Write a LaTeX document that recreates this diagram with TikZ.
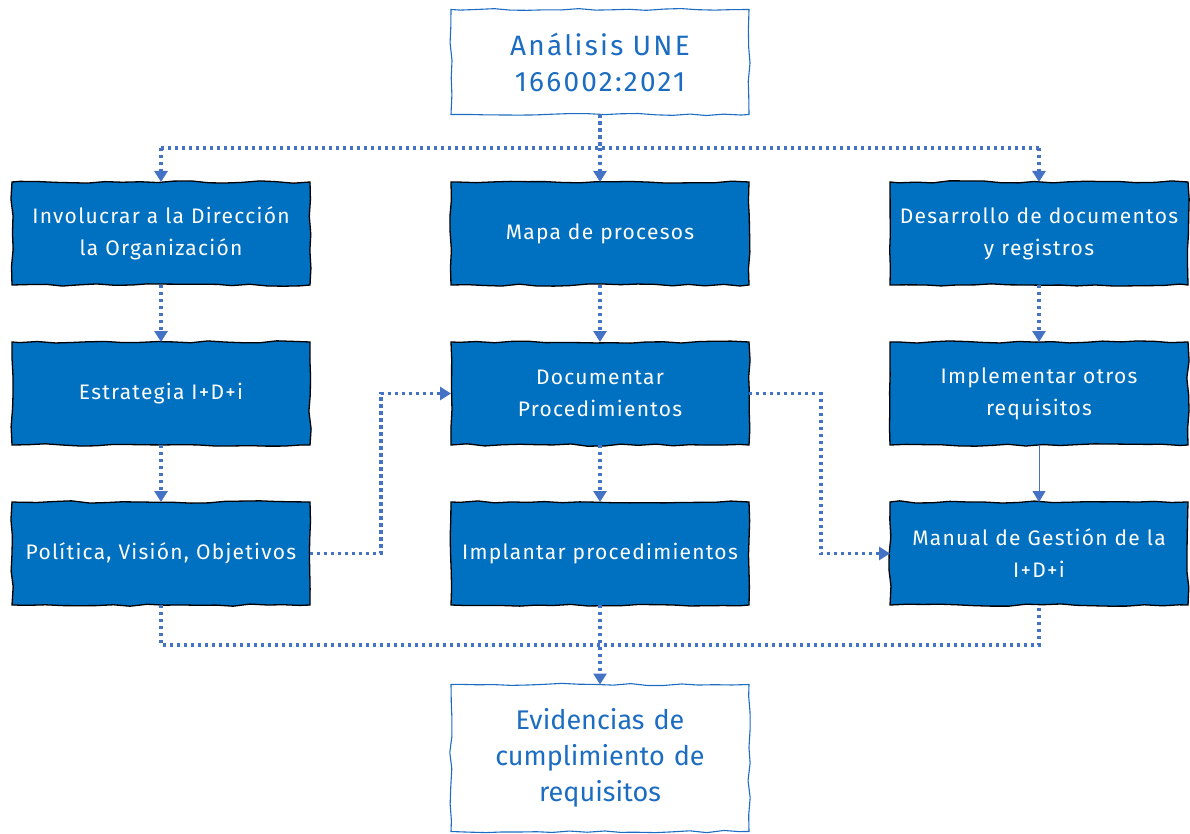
\documentclass[tikz,border=0pt]{standalone}
\usepackage{fontspec}
\setmainfont{Fira Sans}
\newfontfamily\boxfont[LetterSpace=6]{Fira Sans}
\newfontfamily\headfont[LetterSpace=8]{Fira Sans}
\usetikzlibrary{arrows.meta,decorations.pathmorphing,calc}
\definecolor{boxblue}{HTML}{0070C0}
\definecolor{linkblue}{HTML}{4472C4}
\definecolor{txtblue}{HTML}{1C6DC1}
\pgfmathsetseed{11}
\tikzset{
  sketch/.style={decorate,decoration={random steps,segment length=17pt,amplitude=1.2pt}},
  bluebox/.style={sketch,draw=black,line width=1.3pt,fill=boxblue,text=white,
    minimum width=298pt,minimum height=103pt,text width=290pt,align=center,inner sep=0pt,outer sep=0pt,
    font=\boxfont\fontsize{21}{32}\selectfont},
  whitebox/.style={sketch,draw=txtblue,line width=1.1pt,fill=white,text=txtblue,
    minimum width=298pt,text width=285pt,align=center,inner sep=0pt,outer sep=0pt,
    font=\fontsize{27}{36}\selectfont},
  dotline/.style={draw=linkblue,line width=3.4pt,dash pattern=on 3.4pt off 3.6pt},
  dotarrow/.style={dotline,-{Triangle[length=11pt,width=13pt]}},
  solidarrow/.style={draw=linkblue,line width=0.9pt,-{Triangle[length=11pt,width=13pt]}}
}
\begin{document}
\begin{tikzpicture}[x=1pt,y=-1pt]
\useasboundingbox (0,0) rectangle (1190,834);

% top and bottom boxes
\node[whitebox,minimum height=105pt,font=\headfont\fontsize{28}{36}\selectfont] (ana) at (600,62) {Análisis UNE\\166002:2021};
\node[whitebox,minimum height=147pt] (evi) at (600,758) {Evidencias de\\cumplimiento de\\requisitos};

% first row
\node[bluebox] (inv) at (161,233.5) {Involucrar a la Dirección\\la Organización};
\node[bluebox] (map) at (600,233.5) {Mapa de procesos};
\node[bluebox] (des) at (1039,233.5) {Desarrollo de documentos\\y registros};

% second row
\node[bluebox] (est) at (161,393.5) {Estrategia I+D+i};
\node[bluebox] (doc) at (600,393.5) {Documentar\\Procedimientos};
\node[bluebox] (otr) at (1039,393.5) {Implementar otros\\requisitos};

% third row
\node[bluebox] (pol) at (161,553.5) {Política, Visión, Objetivos};
\node[bluebox] (imp) at (600,553.5) {Implantar procedimientos};
\node[bluebox] (man) at (1039,553.5) {Manual de Gestión de la\\I+D+i};

% junction points of the routed connectors
\coordinate (bus) at (600,148);
\coordinate (bus2) at (600,645);
\coordinate (jl) at (381,0);
\coordinate (jr) at (821,0);

% distribution from the analysis
\draw[dotline] (ana.south) -- (bus);
\draw[dotline] (bus -| inv.north) -- (bus -| des.north);
\draw[dotarrow] (bus -| inv.north) -- (inv.north);
\draw[dotarrow] (bus) -- (map.north);
\draw[dotarrow] (bus -| des.north) -- (des.north);

% columns
\draw[dotarrow] (inv.south) -- (est.north);
\draw[dotarrow] (est.south) -- (pol.north);
\draw[dotarrow] (map.south) -- (doc.north);
\draw[dotarrow] (doc.south) -- (imp.north);
\draw[dotarrow] (des.south) -- (otr.north);
\draw[solidarrow] (otr.south) -- (man.north);

% cross links
\draw[dotarrow] (pol.east) -- (pol.east -| jl) |- (doc.west);
\draw[dotarrow] (doc.east) -- (doc.east -| jr) |- (man.west);

% gathering into the evidence
\draw[dotline] (pol.south) |- (bus2 -| man.south) -- (man.south);
\draw[dotarrow] (imp.south) -- (evi.north);
\end{tikzpicture}
\end{document}
